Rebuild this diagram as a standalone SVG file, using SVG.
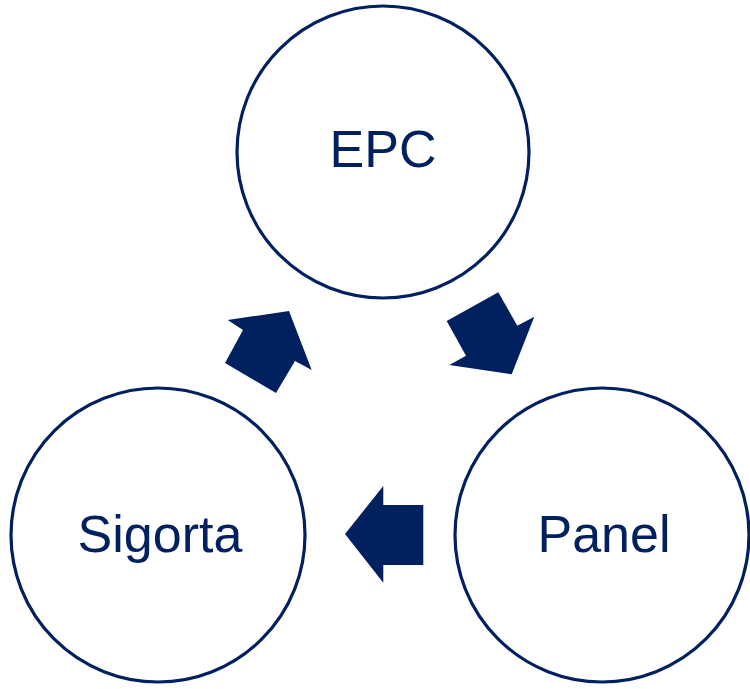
<svg xmlns="http://www.w3.org/2000/svg" width="750" height="689" viewBox="0 0 750 689">
<style>
.c{fill:#fff;stroke:#002060;stroke-width:3.2}
.t{font-family:"Liberation Sans",Arial,sans-serif;font-size:52px;fill:#002060;text-anchor:middle}
.a{fill:#002060}
</style>
<rect width="750" height="689" fill="#fff"/>
<g id="epc"><circle class="c" cx="383" cy="152" r="146"/><text class="t" x="383" y="167">EPC</text></g>
<g id="sigorta"><circle class="c" cx="158" cy="535" r="147"/><text class="t" x="160" y="552">Sigorta</text></g>
<g id="panel"><circle class="c" cx="602" cy="535" r="147"/><text class="t" x="604" y="552">Panel</text></g>
<g id="connectors">
<polygon class="a" points="227.7,320 289,311 311.7,370 295,361 276,393 225,363 243,330"/>
<polygon class="a" points="446.7,321 498.3,292.3 517.3,325.7 534.3,316.7 511.7,374.3 449.3,365 466,355.7"/>
<polygon class="a" points="345,534 383.3,486 383.3,505 423.3,505 423.3,565 383.3,565 383.3,582.7"/>
</g>
</svg>
